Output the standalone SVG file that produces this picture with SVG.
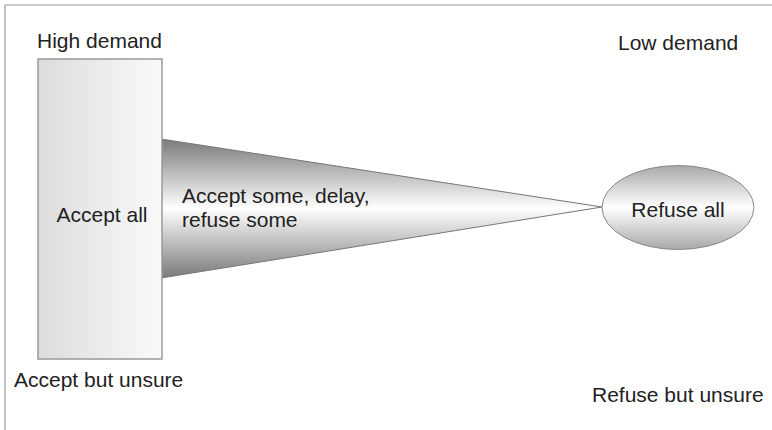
<svg xmlns="http://www.w3.org/2000/svg" width="772" height="430" viewBox="0 0 772 430">
<defs>
<linearGradient id="gRect" x1="0" y1="0" x2="1" y2="0">
<stop offset="0" stop-color="#dcdcdc"/>
<stop offset="1" stop-color="#fafafa"/>
</linearGradient>
<linearGradient id="gTri" x1="0" y1="139" x2="0" y2="278" gradientUnits="userSpaceOnUse">
<stop offset="0" stop-color="#7a7a7a"/>
<stop offset="0.5" stop-color="#ffffff"/>
<stop offset="1" stop-color="#7a7a7a"/>
</linearGradient>
<linearGradient id="gEll" x1="0" y1="0" x2="0" y2="1">
<stop offset="0" stop-color="#a8a8a8"/>
<stop offset="0.5" stop-color="#ffffff"/>
<stop offset="1" stop-color="#a8a8a8"/>
</linearGradient>
</defs>
<style>
text{font-family:"Liberation Sans",Arial,sans-serif;font-size:21px;fill:#222}
.edge{stroke:#999;stroke-width:1.2;fill:none}
</style>
<rect width="772" height="430" fill="#fff"/>
<g id="frame">
<path class="edge" d="M5,430 V5 H772" stroke-width="2"/>
</g>
<g id="connectors">
<polygon points="161,139 602,207 161,278" fill="url(#gTri)" stroke="#777" stroke-width="1"/>
<text x="182" y="203">Accept some, delay,</text>
<text x="182" y="227">refuse some</text>
</g>
<g id="accept-all">
<rect x="38" y="59" width="124" height="300" fill="url(#gRect)" stroke="#999" stroke-width="1.5"/>
<text x="102" y="222" text-anchor="middle">Accept all</text>
</g>
<g id="refuse-all">
<ellipse cx="678" cy="207.5" rx="76" ry="42" fill="url(#gEll)" stroke="#888" stroke-width="1"/>
<text x="678" y="217" text-anchor="middle">Refuse all</text>
</g>
<g id="labels">
<text x="37" y="48">High demand</text>
<text x="618" y="50">Low demand</text>
<text x="14" y="387">Accept but unsure</text>
<text x="592" y="402">Refuse but unsure</text>
</g>
</svg>
